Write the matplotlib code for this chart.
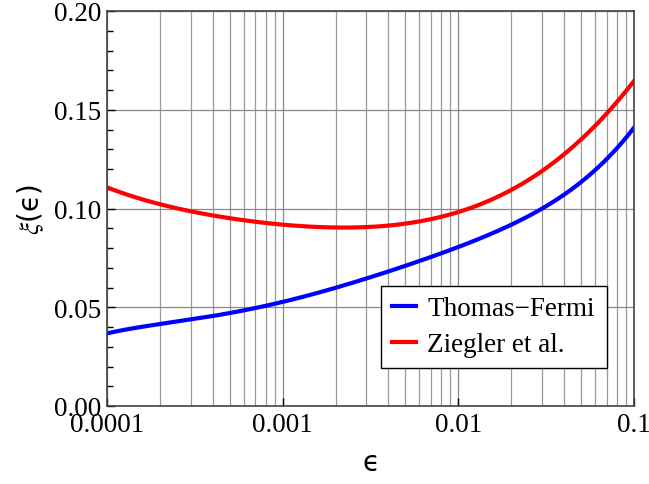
import matplotlib
matplotlib.use('Agg')
import matplotlib.pyplot as plt
import numpy as np
from matplotlib.ticker import FixedLocator, LogLocator, NullFormatter

plt.rcParams['font.family'] = ['Liberation Serif', 'DejaVu Sans']
plt.rcParams['mathtext.fontset'] = 'stix'

# values
eps = [1e-4, 2e-4, 3e-4, 5e-4, 1e-3, 2e-3, 3e-3, 5e-3, 1e-2, 2e-2, 3e-2, 5e-2, 7e-2, 1e-1]
thomas_fermi = [0.037, 0.041, 0.0435, 0.0475, 0.0535, 0.060, 0.064, 0.070, 0.0805, 0.093, 0.101, 0.1115, 0.125, 0.1415]
ziegler = [0.1105, 0.1028, 0.0985, 0.0945, 0.0918, 0.0905, 0.0907, 0.0925, 0.0985, 0.1092, 0.118, 0.1355, 0.149, 0.164]

# smooth curves through the read points (polynomial in log-x)
lx = np.log10(eps)
xs = np.linspace(lx[0], lx[-1], 400)
def smooth(y):
    c = np.polyfit(lx, y, 5)
    return np.polyval(c, xs)

fig = plt.figure(figsize=(6.49, 4.85), dpi=100)
ax = fig.add_axes([107/649, 1 - 407/485, (634-107)/649, (407-12)/485])

ax.plot(10**xs, smooth(thomas_fermi), color='#0000ff', lw=3, label='Thomas\u2212Fermi')
ax.plot(10**xs, smooth(ziegler), color='#ff0000', lw=3, label='Ziegler et al.')

ax.set_xscale('log')
ax.set_xlim(1e-4, 1e-1)
ax.set_ylim(0, 0.2)
ax.set_xticks([1e-4, 1e-3, 1e-2, 1e-1])
ax.set_xticklabels(['0.0001', '0.001', '0.01', '0.1'])
ax.xaxis.set_minor_locator(LogLocator(base=10, subs=np.arange(2, 10)))
ax.xaxis.set_minor_formatter(NullFormatter())
ax.set_yticks([0, 0.05, 0.10, 0.15, 0.20])
ax.set_yticklabels(['0.00', '0.05', '0.10', '0.15', '0.20'])
ax.yaxis.set_minor_locator(FixedLocator(np.arange(0, 0.201, 0.01)))

ax.grid(True, which='major', color='#888888', lw=0.9)
ax.grid(True, which='minor', axis='x', color='#9a9a9a', lw=0.9)
ax.set_axisbelow(True)

ax.tick_params(which='both', direction='in', top=False, right=False, labelsize=19.5, colors='black')
ax.tick_params(which='major', length=6, width=1)
ax.tick_params(which='minor', length=4, width=1)
ax.tick_params(axis='x', which='minor', length=0)
ax.tick_params(axis='x', pad=4)
ax.tick_params(axis='y', pad=4)
for s in ax.spines.values():
    s.set_color('#444444')
    s.set_linewidth(1.2)

ax.set_xlabel('\u03f5', fontsize=20, family=['DejaVu Sans'], labelpad=8)
ax.set_ylabel(r'$\xi$' + '(\u03f5)', fontsize=20, family=['DejaVu Sans'], labelpad=6)

# legend box spans x 381..607, y 288..369 px in the reference
leg = ax.legend(loc='lower left',
                bbox_to_anchor=((381-107)/527, (407-369)/395, (607-381)/527, (369-288)/395),
                mode='expand', fontsize=19.5, frameon=True, fancybox=False, handlelength=0.9,
                handletextpad=0.4, borderpad=0.4, labelspacing=0.4, borderaxespad=0)
leg.get_frame().set_edgecolor('black')
leg.get_frame().set_linewidth(1)
leg.get_frame().set_alpha(1)

fig.savefig('out.png', dpi=100)
